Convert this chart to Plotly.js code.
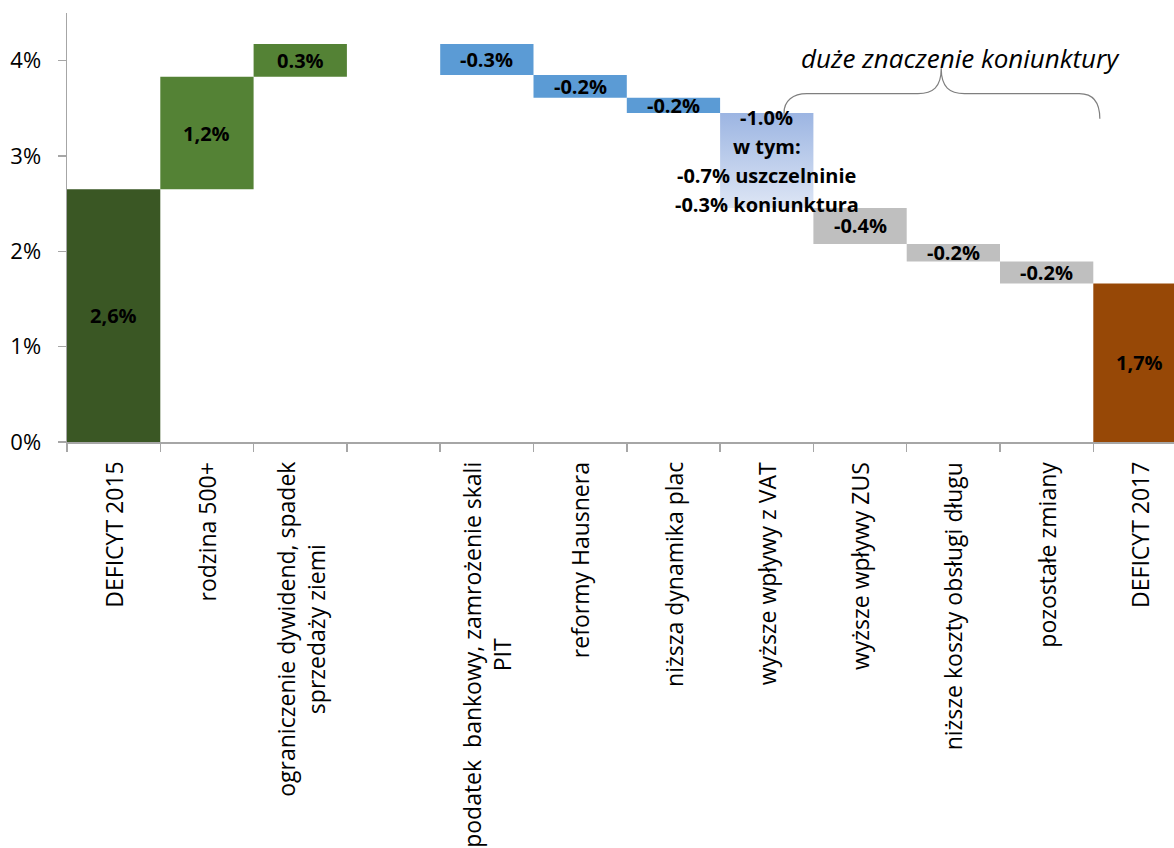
<!DOCTYPE html>
<html><head><meta charset="utf-8">
<script src="https://cdn.plot.ly/plotly-3.0.1.min.js"></script>
<style>html,body{margin:0;padding:0;background:#fff}</style>
</head><body><div id="chart" style="width:1174px;height:848px"></div>
<script>
// ---- data ----
const categories = [
  "DEFICYT 2015",
  "rodzina 500+",
  "ograniczenie dywidend, spadek<br>sprzedaży ziemi",
  "",
  "podatek\u00a0 bankowy, zamrożenie skali<br>PIT",
  "reformy Hausnera",
  "niższa dynamika plac",
  "wyższe wpływy z VAT",
  "wyższe wpływy ZUS",
  "niższe koszty obsługi długu",
  "pozostałe zmiany",
  "DEFICYT 2017"
];
const measures = ["absolute","relative","relative","gap","relative","relative","relative","relative","relative","relative","relative","total"];
const values = [2.65, 1.18, 0.345, null, -0.325, -0.24, -0.16, -0.995, -0.377, -0.185, -0.23, null];
const barLabels = [["2,6%"],["1,2%"],["0.3%"],[],["-0.3%"],["-0.2%"],["-0.2%"],
  ["-1.0%","w tym:","-0.7% uszczelninie","-0.3% koniunktura"],
  ["-0.4%"],["-0.2%"],["-0.2%"],["1,7%"]];
const barColors = ["#3A5724","#548235","#548235",null,"#5B9BD5","#5B9BD5","#5B9BD5","gradient","#BFBFBF","#BFBFBF","#BFBFBF","#974806"];
const gradientStops = ["#DEE6F5","#9CB5E2"];
const yTicks = [0,1,2,3,4];
const yTickText = ["0%","1%","2%","3%","4%"];
const noteText = "duże znaczenie koniunktury";

const FONT = "'Open Sans', sans-serif";

// ---- build waterfall geometry from data ----
const xs = [], bases = [], lens = [], cols = [];
let running = 0;
measures.forEach((m, i) => {
  if (m === "gap") return;
  let b, l;
  if (m === "absolute") { b = 0; l = values[i]; running = values[i]; }
  else if (m === "total") { b = 0; l = running; }
  else { const v = values[i]; b = v >= 0 ? running : running + v; l = Math.abs(v); running += v; }
  xs.push(i); bases.push(b); lens.push(l);
  cols.push(barColors[i] === "gradient" ? "rgba(0,0,0,0)" : barColors[i]);
});

const traces = [{
  type: "bar", x: xs, y: lens, base: bases, width: 1,
  marker: { color: cols, line: { width: 0 } },
  hoverinfo: "skip", showlegend: false
}];

const annotations = [];
const LINE_GAP = 29;
xs.forEach((xi, k) => {
  if (barColors[xi] === "gradient") {
    const b = bases[k], t = bases[k] + lens[k];
    traces.push({
      type: "scatter", mode: "lines",
      x: [xi - 0.5, xi + 0.5, xi + 0.5, xi - 0.5, xi - 0.5],
      y: [b, b, t, t, b],
      line: { width: 0, color: "rgba(0,0,0,0)" },
      fill: "toself",
      fillgradient: { type: "vertical", colorscale: [[0, gradientStops[0]], [1, gradientStops[1]]] },
      hoverinfo: "skip", showlegend: false
    });
  }
  const lines = barLabels[xi];
  lines.forEach((ln, j) => {
    annotations.push({
      x: xi, y: bases[k] + lens[k] / 2, xref: "x", yref: "y",
      yshift: -(j - (lines.length - 1) / 2) * LINE_GAP,
      text: "<b>" + ln + "</b>", showarrow: false,
      font: { family: FONT, size: 20, color: "#000" },
      xanchor: "center", yanchor: "middle", align: "center"
    });
  });
});

// category labels (rotated, centred lines)
categories.forEach((c, i) => {
  if (!c) return;
  annotations.push({
    x: i, y: 0, xref: "x", yref: "paper", yshift: -18,
    text: c, textangle: -90, showarrow: false,
    font: { family: FONT, size: 23, color: "#000" },
    xanchor: "center", yanchor: "top", align: "center"
  });
});

annotations.push({
  x: 9.08, y: 4.03, xref: "x", yref: "y", text: "<i>" + noteText + "</i>",
  showarrow: false, font: { family: FONT, size: 26, color: "#000" },
  xanchor: "center", yanchor: "middle"
});

const boundaries = categories.map((c, i) => i - 0.5).concat([categories.length - 0.5]);

const layout = {
  width: 1174, height: 848,
  margin: { l: 67, r: 0, t: 13, b: 406, pad: 0 },
  paper_bgcolor: "#fff", plot_bgcolor: "#fff",
  font: { family: FONT, color: "#000" },
  showlegend: false,
  xaxis: {
    range: [-0.5, 11.365], tickmode: "array", tickvals: boundaries,
    showticklabels: false, ticks: "outside", ticklen: 8, tickcolor: "#A6A6A6", tickwidth: 1.5,
    showline: true, linecolor: "#A6A6A6", linewidth: 1.5, showgrid: false, zeroline: false, fixedrange: true
  },
  yaxis: {
    range: [0, 4.5], tickmode: "array", tickvals: yTicks, ticktext: yTickText,
    ticks: "outside", ticklen: 8, tickcolor: "#A6A6A6", tickwidth: 1.5, ticklabelstandoff: 12,
    tickfont: { family: FONT, size: 22, color: "#000" },
    showline: true, linecolor: "#A6A6A6", linewidth: 1.5, showgrid: false, zeroline: false, fixedrange: true
  },
  shapes: [{
    type: "path", xref: "x", yref: "y",
    path: "M 7.185 3.45 C 7.185 3.58, 7.28 3.654, 7.43 3.654 L 8.62 3.654 C 8.78 3.654, 8.87 3.72, 8.87 3.92 C 8.87 3.72, 8.96 3.654, 9.12 3.654 L 10.35 3.654 C 10.5 3.654, 10.57 3.56, 10.57 3.39",
    line: { color: "#7F7F7F", width: 1.2 }
  }],
  annotations: annotations
};

Plotly.newPlot("chart", traces, layout, { displayModeBar: false, staticPlot: true });
</script>
</body></html>
